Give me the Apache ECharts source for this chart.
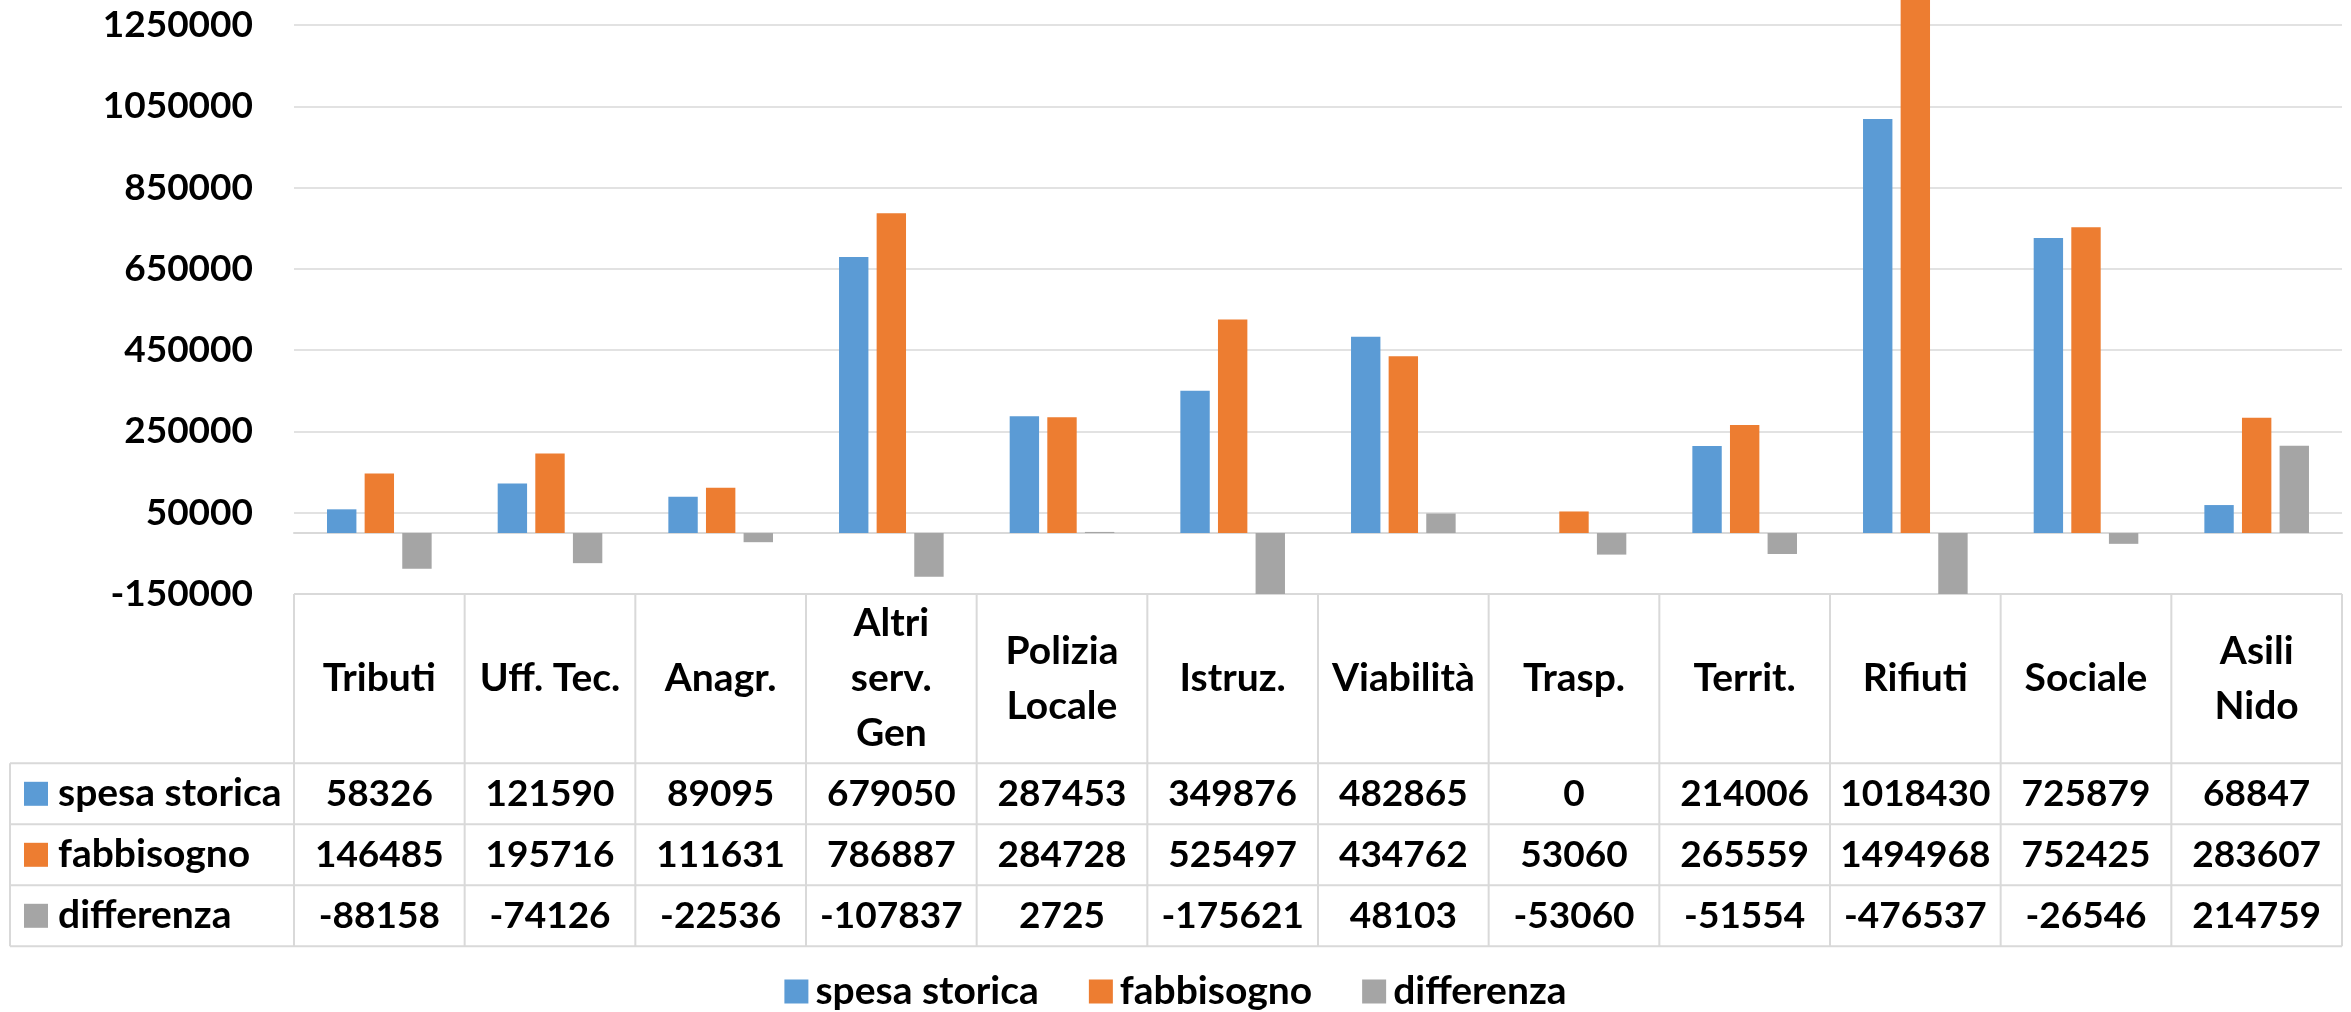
<!DOCTYPE html>
<html>
<head>
<meta charset="utf-8">
<script src="https://cdn.jsdelivr.net/npm/echarts@6/dist/echarts.min.js"></script>
<style>
html,body{margin:0;padding:0;background:#fff;}
#chart{width:2351px;height:1012px;}
</style>
</head>
<body>
<div id="chart"></div>
<script>
const categories = ['Tributi','Uff. Tec.','Anagr.','Altri\nserv.\nGen','Polizia\nLocale','Istruz.','Viabilità','Trasp.','Territ.','Rifiuti','Sociale','Asili\nNido'];
const seriesNames = ['spesa storica','fabbisogno','differenza'];
const spesaStorica = [58326,121590,89095,679050,287453,349876,482865,0,214006,1018430,725879,68847];
const fabbisogno = [146485,195716,111631,786887,284728,525497,434762,53060,265559,1494968,752425,283607];
const differenza = [-88158,-74126,-22536,-107837,2725,-175621,48103,-53060,-51554,-476537,-26546,214759];
const yMin = -150000, yMax = 1450000, yStep = 200000;

const colors = ['#5B9BD5','#ED7D31','#A5A5A5'];
const FONT_FAMILY = 'Lato';
const FS = 37;      // numbers
const FS_W = 39;    // words
const GRID_COLOR = '#d9d9d9';

const chart = echarts.init(document.getElementById('chart'), null, {renderer:'canvas'});
const seriesData = [spesaStorica, fabbisogno, differenza];

const option = {
  animation:false,
  backgroundColor:'#fff',
  color: colors,
  grid:{left:294, right:9, bottom:418, height:650.3, containLabel:false, outerBoundsMode:'none'},
  xAxis:{
    type:'category', data:categories,
    axisLine:{show:true, onZero:true, lineStyle:{color:GRID_COLOR, width:2}},
    axisTick:{show:false}, axisLabel:{show:false}, splitLine:{show:false}
  },
  yAxis:{
    type:'value', min:yMin, max:yMax, interval:yStep,
    axisLine:{show:false}, axisTick:{show:false},
    splitLine:{show:true, lineStyle:{color:GRID_COLOR, width:1.5}},
    axisLabel:{color:'#000', fontFamily:FONT_FAMILY, fontWeight:'bold', fontSize:FS, margin:41,
      formatter: v => String(v)}
  },
  legend:{
    data:seriesNames, bottom:1, left:'center', itemWidth:24, itemHeight:24, itemGap:50,
    icon:'rect', padding:0,
    textStyle:{color:'#000', fontFamily:FONT_FAMILY, fontWeight:'bold', fontSize:FS_W, padding:[0,0,0,2]}
  },
  series: seriesNames.map((n,i)=>({
    name:n, type:'bar', data:seriesData[i], barGap:'28%', barCategoryGap:'38.7%', clip:true,
    itemStyle:{color:colors[i]}
  }))
};
chart.setOption(option);

function buildTable(){
  const centers = categories.map(c => chart.convertToPixel({xAxisIndex:0}, c));
  const cw = centers[1]-centers[0];
  const tableTop = chart.convertToPixel({yAxisIndex:0}, yMin);
  const left0 = centers[0]-cw/2;
  const right0 = centers[centers.length-1]+cw/2;
  const outerLeft = 10;
  const headerBottom = 763.3;
  const rowH = 61;
  const rowsY = [headerBottom, headerBottom+rowH, headerBottom+2*rowH, headerBottom+3*rowH];
  const els = [];
  const ls = {stroke:GRID_COLOR, lineWidth:2};
  els.push({type:'line', shape:{x1:left0, y1:tableTop, x2:right0, y2:tableTop}, style:ls, silent:true});
  rowsY.forEach(y=>els.push({type:'line', shape:{x1:outerLeft, y1:y, x2:right0, y2:y}, style:ls, silent:true}));
  for(let i=0;i<=categories.length;i++){
    const x = left0 + i*cw;
    els.push({type:'line', shape:{x1:x, y1:tableTop, x2:x, y2:rowsY[3]}, style:ls, silent:true});
  }
  els.push({type:'line', shape:{x1:outerLeft, y1:rowsY[0], x2:outerLeft, y2:rowsY[3]}, style:ls, silent:true});
  const font = 'bold '+FS+'px '+FONT_FAMILY;
  const fontW = 'bold '+FS_W+'px '+FONT_FAMILY;
  categories.forEach((c,i)=>{
    els.push({type:'text', silent:true, style:{text:c, x:centers[i], y:(tableTop+headerBottom)/2, align:'center', verticalAlign:'middle', font:fontW, fill:'#000', lineHeight:55}});
  });
  seriesNames.forEach((n,r)=>{
    const cy = (rowsY[r]+rowsY[r+1])/2;
    els.push({type:'rect', silent:true, shape:{x:24, y:cy-12, width:24, height:24}, style:{fill:colors[r]}});
    els.push({type:'text', silent:true, style:{text:n, x:58, y:cy, align:'left', verticalAlign:'middle', font:fontW, fill:'#000'}});
    seriesData[r].forEach((v,i)=>{
      els.push({type:'text', silent:true, style:{text:String(v), x:centers[i], y:cy, align:'center', verticalAlign:'middle', font:font, fill:'#000'}});
    });
  });
  chart.setOption({graphic:{elements:els}});
}
buildTable();
</script>
</body>
</html>
